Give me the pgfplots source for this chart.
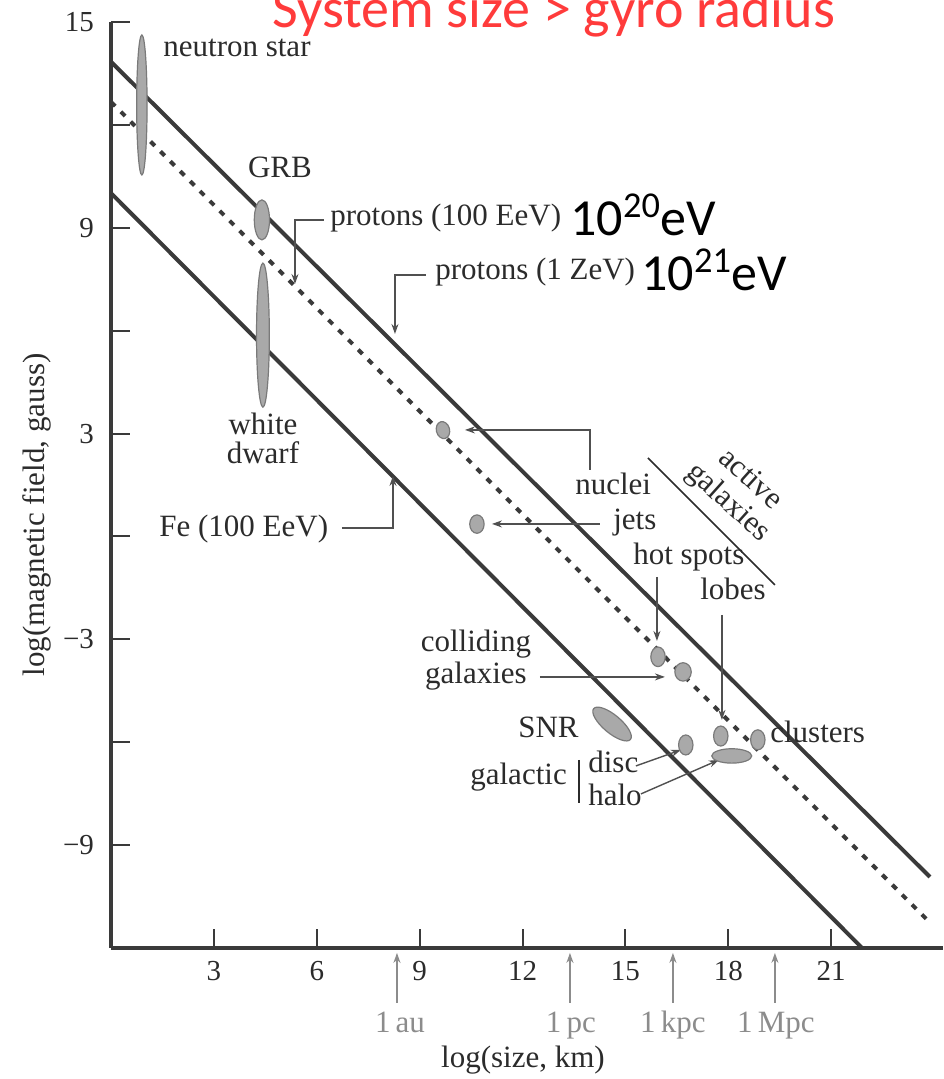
\documentclass[border=0pt]{standalone}
\usepackage{pgfplots}
\pgfplotsset{compat=1.18}
\usepackage{pgfplotstable}
\usepackage{fontspec}
\setmainfont{Liberation Serif}
\newfontfamily\carlito{Carlito}
\usetikzlibrary{arrows.meta}
\definecolor{ink}{HTML}{2B2B2B}
\definecolor{linec}{HTML}{3A3A3A}
\definecolor{lead}{HTML}{505050}
\definecolor{greyl}{HTML}{8C8C8C}
\definecolor{blobfill}{HTML}{A9A9A9}
\definecolor{blobdraw}{HTML}{7A7A7A}
\definecolor{titlered}{HTML}{FF3B3B}
\newcommand\pp[2]{(axis cs:{(#1-111)/34.3},{15-(#2-22)/34.3})}
\newcommand\lab{\fontsize{15.5}{17}\selectfont}

% objects: centre (log size, log B), half-axes in pt, rotation
\pgfplotstableread{
x y rx ry rot
0.90 12.58 2.6 35 0
4.40 9.23 3.8 10 0
4.43 5.87 3.2 36 0
9.68 3.10 3.3 4.3 15
10.67 0.36 3.6 4.6 0
15.95 -3.51 3.6 4.9 0
16.68 -3.95 4.1 4.6 0
14.61 -5.47 12 4.5 -40
16.76 -6.08 3.6 5 0
17.78 -5.82 3.6 5 0
18.86 -5.93 3.6 5 0
18.10 -6.40 10 3.6 0
}\blobs

\tikzset{lbl/.style={inner sep=0pt, font=\lab, text=ink},
  ld/.style={lead, line width=0.7pt},
  ar/.style={ld, -{Stealth[length=5pt,width=3.5pt]}}}

\begin{document}
\begin{tikzpicture}
\begin{axis}[
 name=ax,
 scale only axis, width=416pt, height=463pt,
 xmin=0, xmax=24.26, ymin=-12, ymax=15,
 axis x line=bottom, axis y line=left,
 axis line style={-, line width=2pt, color=linec},
 xtick={3,6,...,21}, ytick={-9,-3,3,9,15}, minor ytick={-6,0,6,12},
 yticklabels={−9,−3,3,9,15},
 tick align=inside,
 major tick length=9.5pt, minor tick length=9.5pt,
 every tick/.style={line width=1pt, color=linec},
 tick label style={font=\fontsize{14.5}{16}\selectfont, text=ink},
 /pgf/number format/assume math mode=true,
 xticklabel style={yshift=-3pt},
 yticklabel style={xshift=-5pt},
 clip=false,
]
\addplot[linec, line width=2pt] coordinates {(0,13.84) (23.88,-9.93)};
\addplot[linec, line width=2pt, dash pattern=on 3pt off 4pt] coordinates {(0,12.67) (23.85,-11.23)};
\addplot[linec, line width=2pt] coordinates {(0,10.01) (21.9,-12)};

\addplot[scatter, only marks, mark=*, mark size=1pt,
  scatter/use mapped color={draw=blobdraw, fill=blobfill},
  visualization depends on={\thisrow{rx} \as \blobrx},
  visualization depends on={\thisrow{ry} \as \blobry},
  visualization depends on={\thisrow{rot} \as \blobrot},
  scatter/@pre marker code/.append style={/tikz/rotate=\blobrot, /tikz/xscale=\blobrx, /tikz/yscale=\blobry},
  mark options={line width=0.6pt},
] table[x=x, y=y] {\blobs};

% title and energy labels
\node[anchor=base west, inner sep=0pt, font=\carlito\fontsize{28}{30}\selectfont, text=titlered] at \pp{272}{28} {System size > gyro radius};
\node[anchor=base west, inner sep=0pt, font=\carlito\fontsize{26}{28}\selectfont, text=black] at \pp{570}{236} {10\textsuperscript{20}eV};
\node[anchor=base west, inner sep=0pt, font=\carlito\fontsize{26}{28}\selectfont, text=black] at \pp{641}{291} {10\textsuperscript{21}eV};

\node[lbl, anchor=base west] at \pp{163}{57} {neutron star};
\node[lbl, anchor=base] at \pp{280}{178} {GRB};
\node[lbl, anchor=base west] at \pp{330}{226} {protons (100 EeV)};
\draw[ar] \pp{324}{220} -- \pp{295}{220} -- \pp{295}{284};
\node[lbl, anchor=base west] at \pp{435}{280} {protons (1 ZeV)};
\draw[ar] \pp{426}{275} -- \pp{395}{275} -- \pp{395}{334};
\node[lbl, anchor=base] at \pp{263}{435} {white};
\node[lbl, anchor=base] at \pp{263}{464} {dwarf};
\node[lbl, anchor=base west] at \pp{159}{537} {Fe (100 EeV)};
\draw[ar] \pp{342}{528} -- \pp{393}{528} -- \pp{393}{476};
\node[lbl, anchor=base west] at \pp{575}{495} {nuclei};
\draw[ar] \pp{590}{470} -- \pp{590}{430} -- \pp{465}{430};
\node[lbl, anchor=base west] at \pp{613}{530} {jets};
\draw[ar] \pp{600}{524} -- \pp{492}{524};
\node[lbl, anchor=base west] at \pp{633}{565} {hot spots};
\draw[ar] \pp{657}{577} -- \pp{657}{641};
\node[lbl, anchor=base west] at \pp{700}{600} {lobes};
\draw[ar] \pp{722}{615} -- \pp{722}{720};
\node[lbl, rotate=-42] at \pp{752}{478} {active};
\node[lbl, rotate=-42] at \pp{728}{503} {galaxies};
\draw[ink, line width=0.8pt] \pp{648}{458} -- \pp{775}{585};
\node[lbl, anchor=base] at \pp{476}{652} {colliding};
\node[lbl, anchor=base] at \pp{476}{684} {galaxies};
\draw[ar] \pp{540}{677} -- \pp{665}{677};
\node[lbl, anchor=base west] at \pp{518}{738} {SNR};
\node[lbl, anchor=base west] at \pp{470}{785} {galactic};
\draw[ink, line width=0.8pt] \pp{579}{760} -- \pp{579}{803};
\node[lbl, anchor=base west] at \pp{588}{773} {disc};
\node[lbl, anchor=base west] at \pp{588}{806} {halo};
\draw[ar] \pp{636}{766} -- \pp{681}{750};
\draw[ar] \pp{641}{794} -- \pp{719}{760};
\node[lbl, anchor=base west] at \pp{770}{743} {clusters};

% reference scales
\draw[greyl, line width=0.8pt, -{Stealth[length=5pt,width=3.5pt]}] \pp{397}{1003} -- \pp{397}{953};
\draw[greyl, line width=0.8pt, -{Stealth[length=5pt,width=3.5pt]}] \pp{570}{1003} -- \pp{570}{953};
\draw[greyl, line width=0.8pt, -{Stealth[length=5pt,width=3.5pt]}] \pp{673}{1003} -- \pp{673}{953};
\draw[greyl, line width=0.8pt, -{Stealth[length=5pt,width=3.5pt]}] \pp{775}{1003} -- \pp{775}{953};
\node[lbl, anchor=base, text=greyl] at \pp{400}{1033} {1\,au};
\node[lbl, anchor=base, text=greyl] at \pp{571}{1033} {1\,pc};
\node[lbl, anchor=base, text=greyl] at \pp{673}{1033} {1\,kpc};
\node[lbl, anchor=base, text=greyl] at \pp{776}{1033} {1\,Mpc};

\node[lbl, anchor=base] at \pp{523}{1068} {log(size, km)};
\node[lbl, rotate=90] at \pp{37}{515} {log(magnetic field, gauss)};
\end{axis}
\pgfresetboundingbox
\useasboundingbox ([shift={(-55.5pt,-65.5pt)}]ax.south west) rectangle ([shift={(0pt,11pt)}]ax.north east);
\end{tikzpicture}
\end{document}
